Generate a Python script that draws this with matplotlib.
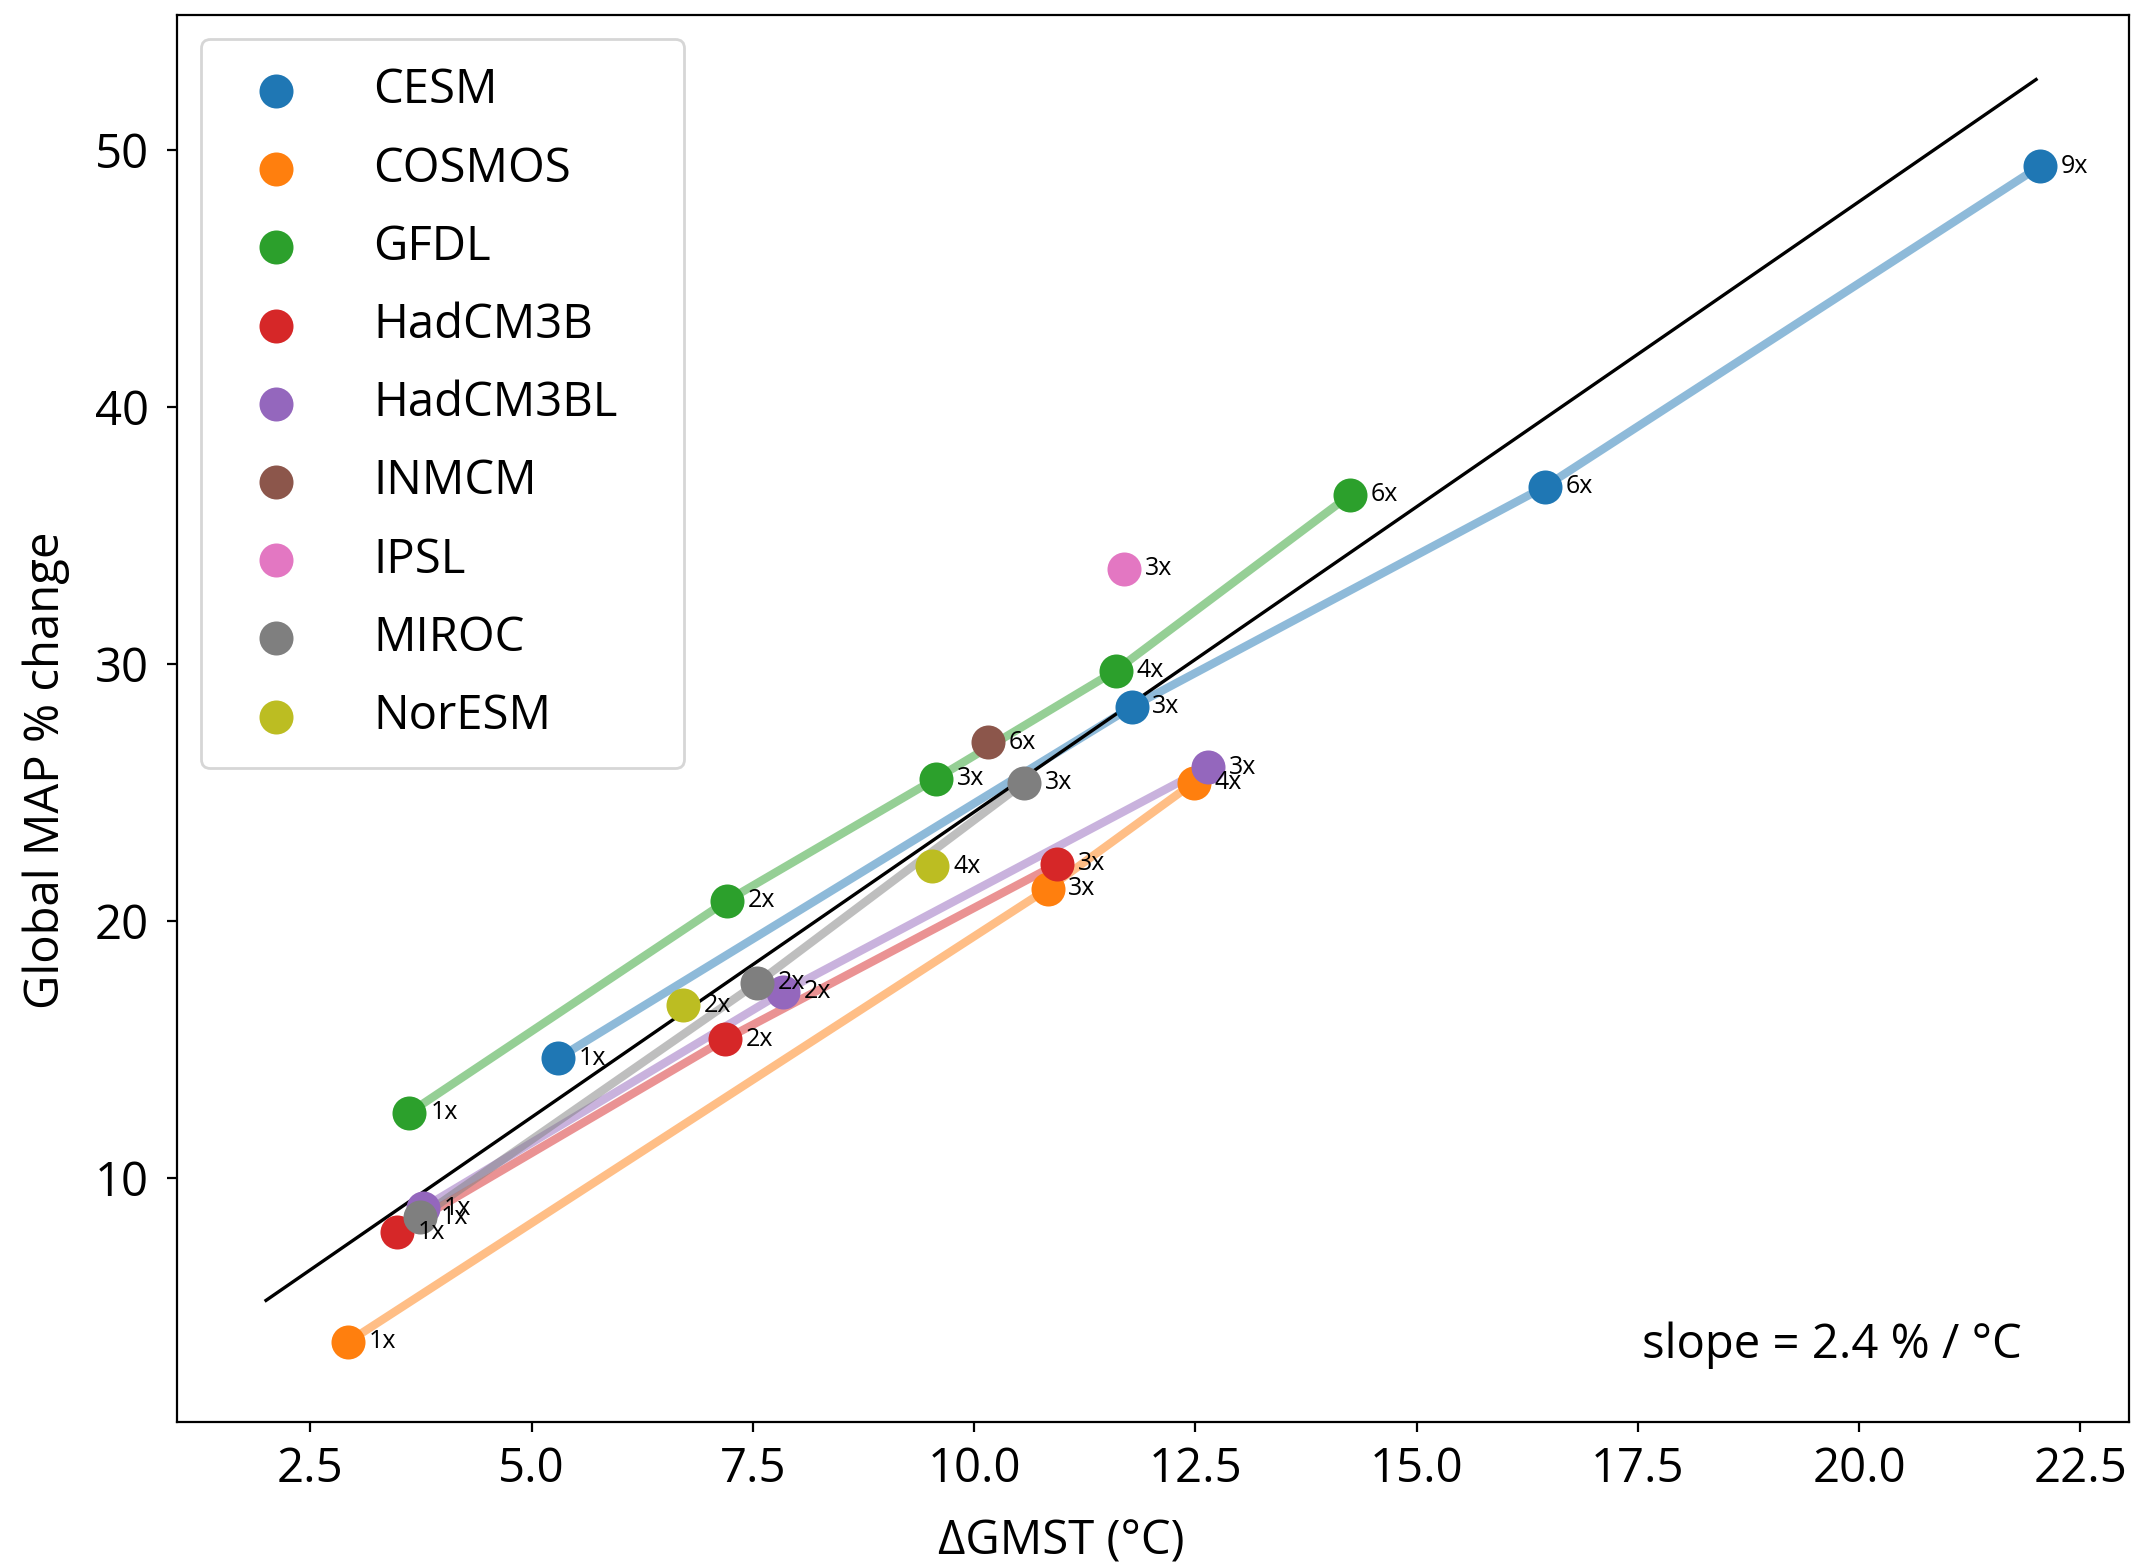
import matplotlib
matplotlib.use("Agg")
import matplotlib.pyplot as plt

plt.rcParams["font.family"] = ["Open Sans", "DejaVu Sans"]

# Warming (ΔGMST, °C) and global mean annual precipitation change (%) per model
models = ["CESM", "COSMOS", "GFDL", "HadCM3B", "HadCM3BL",
          "INMCM", "IPSL", "MIROC", "NorESM"]
colors = ["tab:blue", "tab:orange", "tab:green", "tab:red", "tab:purple",
          "tab:brown", "tab:pink", "tab:gray", "tab:olive"]

cesm_dT = [5.30, 11.78, 16.45, 22.04]
cesm_dP = [14.66, 28.33, 36.9, 49.36]
cesm_co2 = ["1x", "3x", "6x", "9x"]

cosmos_dT = [2.93, 10.83, 12.48]
cosmos_dP = [3.63, 21.25, 25.38]
cosmos_co2 = ["1x", "3x", "4x"]

gfdl_dT = [3.62, 7.21, 9.57, 11.60, 14.25]
gfdl_dP = [12.54, 20.79, 25.54, 29.74, 36.58]
gfdl_co2 = ["1x", "2x", "3x", "4x", "6x"]

hadcm3b_dT = [3.48, 7.19, 10.94]
hadcm3b_dP = [7.90, 15.40, 22.22]
hadcm3b_co2 = ["1x", "2x", "3x"]

hadcm3bl_dT = [3.77, 7.84, 12.64]
hadcm3bl_dP = [8.83, 17.24, 25.99]
hadcm3bl_co2 = ["1x", "2x", "3x"]

inmcm_dT = [10.16]
inmcm_dP = [26.96]
inmcm_co2 = ["6x"]

ipsl_dT = [11.69]
ipsl_dP = [33.71]
ipsl_co2 = ["3x"]

miroc_dT = [3.74, 7.55, 10.56]
miroc_dP = [8.48, 17.59, 25.37]
miroc_co2 = ["1x", "2x", "3x"]

noresm_dT = [6.71, 9.53]
noresm_dP = [16.73, 22.14]
noresm_co2 = ["2x", "4x"]

all_dT = [cesm_dT, cosmos_dT, gfdl_dT, hadcm3b_dT, hadcm3bl_dT,
          inmcm_dT, ipsl_dT, miroc_dT, noresm_dT]
all_dP = [cesm_dP, cosmos_dP, gfdl_dP, hadcm3b_dP, hadcm3bl_dP,
          inmcm_dP, ipsl_dP, miroc_dP, noresm_dP]
all_co2 = [cesm_co2, cosmos_co2, gfdl_co2, hadcm3b_co2, hadcm3bl_co2,
           inmcm_co2, ipsl_co2, miroc_co2, noresm_co2]

# Fitted scaling line
fit_slope = 2.375
fit_intercept = 0.49
fit_x = [2.0, 22.0]

W, H, DPI = 2133, 1563, 200
fig = plt.figure(figsize=(W / DPI, H / DPI), dpi=DPI)
ax = fig.add_axes([177 / W, 1 - 1421.7 / H, (2129 - 177) / W, (1421.7 - 15) / H])

# connecting lines (under the markers), for model series with 3+ runs
for dT, dP, c in zip(all_dT, all_dP, colors):
    if len(dT) > 2:
        ax.plot(dT, dP, color=c, alpha=0.5, lw=3, zorder=1)

ax.plot(fit_x, [fit_slope * x + fit_intercept for x in fit_x],
        color="black", lw=1.2, zorder=1.5)

for name, dT, dP, lab, c in zip(models, all_dT, all_dP, all_co2, colors):
    ax.scatter(dT, dP, s=150, color=c, label=name, zorder=2, linewidths=0)
    for x, y, t in zip(dT, dP, lab):
        ax.annotate(t, (x, y), xytext=(7.5, 0), textcoords="offset points",
                    va="center", ha="left", fontsize=9, zorder=3)

ax.text(0.945, 0.045, f"slope = {fit_slope:.1f} % / °C", transform=ax.transAxes,
        ha="right", va="baseline", fontsize=17)

ax.set_xlim(0.994, 23.05)
ax.set_ylim(0.52, 55.25)
ax.set_xticks([2.5, 5.0, 7.5, 10.0, 12.5, 15.0, 17.5, 20.0, 22.5])
ax.set_yticks([10, 20, 30, 40, 50])
ax.tick_params(axis="x", labelsize=17, pad=5)
ax.tick_params(axis="y", labelsize=17, pad=6.5)
ax.set_xlabel("ΔGMST (°C)", fontsize=17, labelpad=9)
ax.set_ylabel("Global MAP % change", fontsize=17, labelpad=9)
ax.xaxis.label.set_x(0.453)
ax.yaxis.label.set_y(0.463)

ax.legend(loc="upper left", bbox_to_anchor=(0, 0, 0.272, 1), mode="expand",
          fontsize=17, handlelength=2.0, handletextpad=1.05,
          labelspacing=0.65, borderpad=0.6, scatterpoints=1)

fig.savefig("out.png", dpi=DPI)
